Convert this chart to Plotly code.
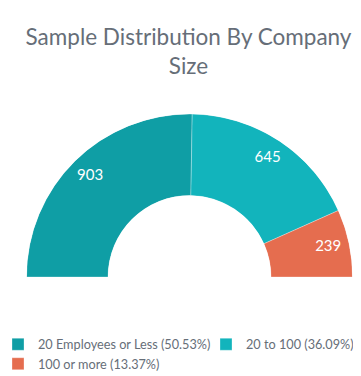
import plotly.graph_objects as go

categories = ["20 Employees or Less", "20 to 100", "100 or more"]
counts = [903, 645, 239]
colors = ["#0F9EA5", "#12B4BC", "#E56D4F"]
legend_slot = ["legend", "legend2", "legend"]
title_text = "Sample Distribution By Company<br>Size"

total = sum(counts)
fracs = [c / total for c in counts]
widths = [f * 180 for f in fracs]
centers = []
acc = 0
for w in widths:
    centers.append(acc + w / 2)
    acc += w

FONT = "Lato, 'Open Sans', sans-serif"

fig = go.Figure()
for cat, c, f, th, w, col, lg in zip(categories, counts, fracs, centers, widths, colors, legend_slot):
    fig.add_trace(go.Barpolar(
        r=[1], theta=[th], width=[w],
        marker=dict(color=col, line=dict(color="rgba(255,255,255,0.6)", width=0.5)),
        name=f"{cat} ({f*100:.2f}%)",
        legend=lg,
        hoverinfo="skip",
    ))

fig.add_trace(go.Scatterpolar(
    r=[0.74] * len(counts), theta=centers, mode="text",
    text=[str(c) for c in counts],
    textfont=dict(color="white", size=15, family=FONT),
    showlegend=False, hoverinfo="skip",
))

leg_common = dict(orientation="v", yanchor="top", y=0.145, xanchor="left",
                  font=dict(size=12.7, color="#666E78", family=FONT),
                  bgcolor="rgba(0,0,0,0)")

fig.update_layout(
    width=361, height=376,
    margin=dict(l=0, r=0, t=0, b=0, autoexpand=False),
    paper_bgcolor="white", plot_bgcolor="white",
    font=dict(family=FONT, color="#666E78"),
    title=dict(text=title_text, x=0.5, xanchor="center", y=0.902, yref="container",
               yanchor="top", font=dict(size=22.5, color="#666E78", family=FONT)),
    polar=dict(
        domain=dict(x=[18 / 361, 345 / 361], y=[(376 - 269) / 376, (376 - 106) / 376]),
        sector=[0, 180], hole=0.5, bargap=0,
        bgcolor="white",
        radialaxis=dict(visible=False, range=[0, 1]),
        angularaxis=dict(visible=False, direction="clockwise", rotation=180,
                         thetaunit="degrees"),
    ),
    legend=dict(x=-10 / 361, **leg_common),
    legend2=dict(x=198 / 361, **leg_common),
    showlegend=True,
)

fig.write_html("out.html")
